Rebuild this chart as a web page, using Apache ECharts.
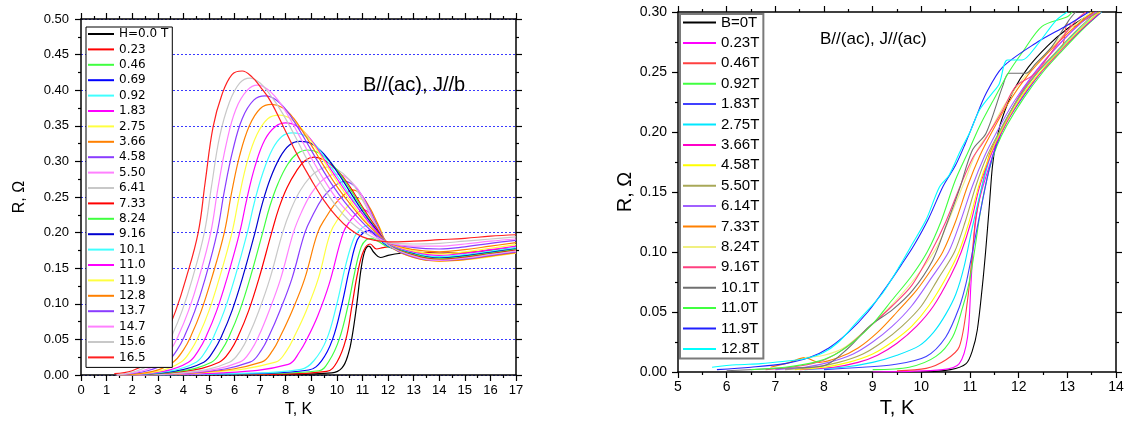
<!DOCTYPE html>
<html>
<head>
<meta charset="utf-8">
<script src="https://cdn.jsdelivr.net/npm/echarts/dist/echarts.min.js"></script>
<style>
html,body{margin:0;padding:0;background:#fff;}
#chart{width:1133px;height:424px;}
</style>
</head>
<body>
<div id="chart"></div>
<script>
// ---------- Left panel: B//(ac), J//b, R(T) at fixed fields ----------
const leftLabels = ['H=0.0 T','0.23','0.46','0.69','0.92','1.83','2.75','3.66','4.58','5.50','6.41',
                    '7.33','8.24','9.16','10.1','11.0','11.9','12.8','13.7','14.7','15.6','16.5'];
const leftColors = ['#000000','#ff0000','#40ff40','#0000ff','#40ffff','#ff00ff','#ffff40','#ff8000','#8a3cff','#ff80ff','#c8c8c8',
                    '#ff0000','#40ff40','#0000d0','#40ffff','#ff00ff','#ffff40','#ff8000','#8a3cff','#ff80ff','#c8c8c8','#ff2020'];

const h000 = [[1.4,0],[8.0,0.001],[9.8,0.003],[10.2,0.01],[10.45,0.03],[10.6,0.055],[10.78,0.1],[10.95,0.15],[11.1,0.175],[11.25,0.181],[11.45,0.172],[11.7,0.165],[12.0,0.168],[12.5,0.171],[13,0.172],[14,0.171],[15,0.172],[16,0.175],[17,0.178]];
const h023 = [[1.4,0],[7.5,0.001],[9.6,0.005],[10.0,0.018],[10.35,0.05],[10.6,0.1],[10.82,0.145],[11.05,0.175],[11.3,0.184],[11.55,0.177],[11.8,0.179],[12.0,0.18],[13,0.173],[14,0.171],[15,0.172],[16,0.175],[17,0.178]];
const h046 = [[1.4,0],[7.0,0.002],[9.3,0.006],[9.7,0.02],[10.09,0.05],[10.45,0.1],[10.7,0.145],[10.95,0.18],[11.15,0.19],[11.35,0.192],[11.6,0.188],[12,0.18],[13,0.169],[14,0.166],[15,0.168],[16,0.172],[17,0.176]];
const h069 = [[1.4,0],[6.5,0.002],[8.9,0.007],[9.4,0.02],[9.83,0.05],[10.2,0.1],[10.5,0.15],[10.8,0.19],[11.05,0.2],[11.25,0.203],[11.5,0.196],[12,0.181],[13,0.168],[14,0.165],[15,0.167],[16,0.171],[17,0.176]];
const h092 = [[1.4,0],[6.0,0.002],[8.6,0.008],[9.1,0.02],[9.6,0.05],[10.0,0.1],[10.35,0.155],[10.7,0.195],[11.0,0.207],[11.2,0.21],[11.5,0.2],[12,0.182],[13,0.167],[14,0.163],[15,0.165],[16,0.169],[17,0.174]];
const h183 = [[1.4,0],[5.5,0.003],[8.1,0.015],[8.55,0.033],[8.85,0.052],[9.25,0.083],[9.7,0.128],[10.25,0.2],[10.55,0.218],[10.8,0.228],[11.05,0.232],[11.3,0.226],[11.6,0.208],[12,0.183],[13,0.166],[14,0.161],[15,0.163],[16,0.167],[17,0.172]];
const h275 = [[1.4,0],[5.0,0.004],[7.6,0.018],[8.05,0.035],[8.35,0.055],[8.8,0.09],[9.27,0.135],[9.75,0.2],[10.1,0.222],[10.45,0.238],[10.85,0.248],[11.1,0.243],[11.4,0.225],[11.7,0.205],[12,0.183],[13,0.165],[14,0.16],[15,0.162],[16,0.166],[17,0.171]];
const h366 = [[1.4,0],[4.8,0.004],[7.05,0.018],[7.5,0.035],[7.8,0.055],[8.25,0.09],[8.74,0.135],[9.25,0.2],[9.58,0.222],[9.92,0.24],[10.25,0.252],[10.6,0.26],[10.9,0.255],[11.3,0.234],[11.6,0.212],[12,0.184],[13,0.165],[14,0.16],[15,0.162],[16,0.167],[17,0.172]];
const h458 = [[1.4,0],[4.6,0.004],[6.6,0.018],[7.05,0.035],[7.35,0.055],[7.77,0.09],[8.24,0.135],[8.75,0.2],[9.08,0.226],[9.43,0.248],[9.78,0.262],[10.05,0.269],[10.3,0.272],[10.7,0.265],[11.1,0.245],[11.5,0.216],[12,0.184],[13,0.166],[14,0.161],[15,0.163],[16,0.168],[17,0.173]];
const h550 = [[1.4,0],[4.4,0.004],[6.2,0.018],[6.65,0.035],[6.95,0.055],[7.35,0.09],[7.8,0.135],[8.3,0.2],[8.62,0.229],[8.98,0.254],[9.35,0.271],[9.65,0.279],[9.95,0.282],[10.3,0.279],[10.8,0.262],[11.2,0.236],[11.6,0.206],[12,0.184],[13,0.167],[14,0.161],[15,0.164],[16,0.169],[17,0.174]];
const h641 = [[1.4,0],[4.2,0.004],[5.8,0.018],[6.25,0.035],[6.55,0.055],[6.95,0.09],[7.38,0.135],[7.88,0.2],[8.2,0.232],[8.55,0.258],[8.95,0.278],[9.3,0.288],[9.6,0.292],[10.0,0.289],[10.5,0.274],[11.0,0.246],[11.5,0.212],[12,0.184],[13,0.168],[14,0.162],[15,0.165],[16,0.17],[17,0.175]];
const h733 = [[1.4,0],[4.0,0.005],[5.4,0.018],[5.85,0.035],[6.15,0.055],[6.55,0.09],[6.95,0.135],[7.45,0.2],[7.73,0.234],[8.05,0.263],[8.43,0.287],[8.75,0.301],[9.1,0.306],[9.5,0.302],[10.0,0.288],[10.5,0.265],[11.0,0.236],[11.5,0.209],[12,0.185],[13,0.169],[14,0.163],[15,0.166],[16,0.171],[17,0.176]];
const h824 = [[1.4,0],[3.8,0.005],[5.1,0.018],[5.5,0.035],[5.8,0.055],[6.2,0.09],[6.6,0.135],[7.1,0.2],[7.38,0.237],[7.7,0.269],[8.08,0.296],[8.45,0.311],[8.85,0.316],[9.3,0.312],[9.8,0.297],[10.3,0.273],[10.8,0.245],[11.3,0.217],[12,0.185],[13,0.17],[14,0.164],[15,0.167],[16,0.172],[17,0.177]];
const h916 = [[1.4,0],[3.6,0.005],[4.8,0.018],[5.2,0.035],[5.5,0.055],[5.9,0.09],[6.3,0.135],[6.8,0.2],[7.08,0.24],[7.4,0.276],[7.78,0.306],[8.15,0.323],[8.55,0.328],[9.0,0.325],[9.5,0.31],[10.0,0.286],[10.5,0.258],[11.0,0.23],[11.5,0.206],[12,0.185],[13,0.171],[14,0.165],[15,0.168],[16,0.173],[17,0.178]];
const h1010 = [[1.4,0],[3.4,0.005],[4.5,0.018],[4.9,0.035],[5.2,0.055],[5.6,0.09],[6.0,0.135],[6.5,0.2],[6.78,0.243],[7.1,0.283],[7.48,0.317],[7.85,0.335],[8.25,0.34],[8.8,0.335],[9.3,0.317],[9.8,0.291],[10.3,0.264],[10.8,0.237],[11.3,0.212],[12,0.185],[13,0.172],[14,0.166],[15,0.169],[16,0.174],[17,0.179]];
const h1100 = [[1.4,0],[3.2,0.005],[4.2,0.018],[4.6,0.035],[4.9,0.055],[5.3,0.09],[5.7,0.135],[6.2,0.2],[6.48,0.247],[6.8,0.293],[7.18,0.33],[7.6,0.349],[8.0,0.354],[8.5,0.348],[9.0,0.33],[9.5,0.303],[10.0,0.276],[10.5,0.25],[11.0,0.226],[11.5,0.204],[12,0.185],[13,0.173],[14,0.168],[15,0.171],[16,0.176],[17,0.181]];
const h1190 = [[1.4,0],[3.0,0.005],[3.9,0.018],[4.3,0.035],[4.6,0.055],[5.0,0.09],[5.4,0.135],[5.9,0.2],[6.18,0.25],[6.5,0.3],[6.88,0.338],[7.3,0.36],[7.75,0.365],[8.2,0.36],[8.6,0.347],[9.0,0.328],[9.4,0.306],[9.8,0.283],[10.3,0.256],[10.8,0.231],[11.3,0.209],[12,0.186],[13,0.174],[14,0.17],[15,0.173],[16,0.178],[17,0.183]];
const h1280 = [[1.4,0],[2.8,0.005],[3.6,0.018],[4.0,0.035],[4.3,0.055],[4.7,0.09],[5.1,0.135],[5.6,0.2],[5.88,0.255],[6.2,0.308],[6.58,0.35],[7.0,0.374],[7.45,0.38],[7.9,0.375],[8.3,0.361],[8.7,0.34],[9.1,0.317],[9.5,0.293],[10.0,0.265],[10.5,0.241],[11.0,0.219],[11.5,0.201],[12,0.186],[13,0.176],[14,0.173],[15,0.176],[16,0.181],[17,0.186]];
const h1370 = [[1.4,0],[2.6,0.006],[3.35,0.018],[3.75,0.035],[4.05,0.055],[4.45,0.09],[4.85,0.135],[5.32,0.2],[5.6,0.258],[5.93,0.315],[6.3,0.36],[6.75,0.386],[7.2,0.392],[7.6,0.387],[8.0,0.373],[8.4,0.352],[8.8,0.328],[9.3,0.297],[9.8,0.268],[10.3,0.243],[10.8,0.222],[11.3,0.204],[12,0.186],[13,0.179],[14,0.177],[15,0.18],[16,0.185],[17,0.189]];
const h1470 = [[1.4,0],[2.4,0.006],[3.1,0.018],[3.5,0.035],[3.8,0.055],[4.2,0.09],[4.6,0.135],[5.07,0.2],[5.35,0.262],[5.68,0.325],[6.05,0.373],[6.5,0.4],[6.9,0.407],[7.3,0.401],[7.7,0.386],[8.1,0.364],[8.5,0.338],[9.0,0.305],[9.5,0.274],[10.0,0.247],[10.5,0.226],[11.0,0.208],[11.5,0.195],[12,0.186],[13,0.181],[14,0.181],[15,0.184],[16,0.188],[17,0.191]];
const h1560 = [[1.4,0],[2.2,0.006],[2.85,0.018],[3.25,0.035],[3.55,0.055],[3.95,0.09],[4.35,0.135],[4.82,0.2],[5.1,0.265],[5.42,0.335],[5.8,0.383],[6.2,0.41],[6.6,0.417],[7.0,0.41],[7.4,0.393],[7.8,0.372],[8.3,0.34],[8.7,0.312],[9.0,0.292],[9.5,0.262],[10.0,0.236],[10.5,0.216],[11.0,0.202],[11.5,0.192],[12,0.186],[13,0.184],[14,0.185],[15,0.188],[16,0.191],[17,0.194]];
const h1650 = [[1.3,0.002],[2.0,0.006],[2.6,0.018],[3.0,0.035],[3.3,0.055],[3.7,0.09],[4.1,0.135],[4.58,0.2],[4.85,0.27],[5.16,0.348],[5.5,0.393],[5.9,0.422],[6.3,0.427],[6.7,0.418],[7.0,0.405],[7.4,0.385],[8.0,0.342],[8.5,0.306],[9.0,0.274],[9.5,0.245],[10.0,0.222],[10.5,0.205],[11.0,0.194],[11.5,0.189],[12,0.187],[13,0.188],[14,0.19],[15,0.192],[16,0.195],[17,0.197]];
const leftCurves = [h000,h023,h046,h069,h092,h183,h275,h366,h458,h550,h641,h733,h824,h916,h1010,h1100,h1190,h1280,h1370,h1470,h1560,h1650];

// ---------- Right panel: B//(ac), J//(ac) ----------
const rightLabels = ['B=0T','0.23T','0.46T','0.92T','1.83T','2.75T','3.66T','4.58T','5.50T','6.14T','7.33T','8.24T','9.16T','10.1T','11.0T','11.9T','12.8T'];
const rightColors = ['#000000','#ff00ff','#ff4040','#40ff40','#4040ff','#00e8ff','#ff00c8','#ffff00','#a8a858','#a060ff','#ff8000','#f0f080','#ff4080','#707070','#40ff40','#2020ff','#00ffff'];

const b000 = [[10.0,0],[10.6,0.002],[10.92,0.007],[11.05,0.018],[11.15,0.035],[11.25,0.07],[11.32,0.1],[11.4,0.14],[11.46,0.171],[11.53,0.19],[11.65,0.21],[11.9,0.235],[12.2,0.254],[12.6,0.272],[13.0,0.286],[13.3,0.294],[13.55,0.3]];
const b023 = [[9.0,0],[10.44,0.002],[10.78,0.007],[10.95,0.029],[11.02,0.074],[11.09,0.116],[11.19,0.143],[11.39,0.171],[11.55,0.19],[11.75,0.21],[12.1,0.236],[12.5,0.258],[12.9,0.276],[13.3,0.292],[13.6,0.3]];
const b046 = [[9.5,0.001],[10.1,0.003],[10.5,0.01],[10.78,0.021],[10.95,0.06],[11.05,0.1],[11.12,0.129],[11.26,0.157],[11.39,0.18],[11.55,0.195],[11.8,0.215],[12.15,0.238],[12.5,0.255],[12.9,0.272],[13.0,0.29],[13.15,0.288],[13.3,0.292],[13.65,0.3]];
const b092 = [[9.0,0.002],[9.75,0.004],[10.3,0.013],[10.64,0.029],[10.85,0.054],[10.98,0.074],[11.09,0.1],[11.22,0.135],[11.39,0.168],[11.55,0.188],[11.75,0.205],[12.1,0.228],[12.5,0.25],[12.9,0.268],[13.3,0.285],[13.7,0.3]];
const b183 = [[8.0,0.002],[8.8,0.004],[9.41,0.006],[10.1,0.013],[10.5,0.029],[10.78,0.054],[10.92,0.074],[11.05,0.1],[11.19,0.129],[11.39,0.168],[11.55,0.19],[11.75,0.208],[12.1,0.23],[12.5,0.252],[12.9,0.27],[13.3,0.286],[13.7,0.3]];
const b275 = [[7.6,0.002],[8.4,0.004],[9.0,0.008],[9.5,0.014],[9.96,0.022],[10.25,0.033],[10.5,0.048],[10.71,0.065],[10.88,0.088],[11.05,0.121],[11.26,0.157],[11.46,0.185],[11.67,0.205],[12.0,0.228],[12.4,0.25],[12.8,0.267],[13.2,0.284],[13.6,0.298],[13.7,0.3]];
const b366 = [[7.5,0.002],[8.2,0.004],[8.7,0.008],[9.1,0.014],[9.5,0.024],[9.9,0.038],[10.25,0.055],[10.6,0.08],[10.82,0.1],[11.02,0.125],[11.2,0.155],[11.42,0.18],[11.65,0.2],[12.0,0.225],[12.4,0.247],[12.8,0.265],[13.2,0.282],[13.6,0.297],[13.68,0.3]];
const b458 = [[7.4,0.002],[8.0,0.004],[8.5,0.008],[9.0,0.015],[9.4,0.025],[9.8,0.038],[10.15,0.055],[10.5,0.078],[10.77,0.1],[10.98,0.125],[11.18,0.155],[11.4,0.18],[11.63,0.2],[12.0,0.226],[12.4,0.248],[12.8,0.266],[13.2,0.283],[13.6,0.298],[13.68,0.3]];
const b550 = [[7.2,0.002],[7.8,0.004],[8.3,0.008],[8.8,0.015],[9.2,0.025],[9.6,0.038],[10.0,0.055],[10.35,0.078],[10.68,0.1],[10.9,0.125],[11.12,0.155],[11.35,0.18],[11.6,0.2],[11.95,0.225],[12.35,0.248],[12.75,0.266],[13.15,0.283],[13.55,0.298],[13.65,0.3]];
const b614 = [[7.0,0.002],[7.6,0.004],[8.1,0.008],[8.6,0.015],[9.0,0.025],[9.4,0.038],[9.8,0.055],[10.2,0.078],[10.56,0.1],[10.8,0.125],[11.05,0.155],[11.3,0.18],[11.55,0.2],[11.9,0.225],[12.3,0.248],[12.7,0.267],[13.1,0.284],[13.5,0.298],[13.6,0.3]];
const b733 = [[6.9,0.004],[7.3,0.008],[7.6,0.012],[7.9,0.008],[8.3,0.012],[8.7,0.02],[9.1,0.033],[9.5,0.05],[9.9,0.068],[10.2,0.085],[10.44,0.1],[10.7,0.125],[10.95,0.155],[11.2,0.18],[11.45,0.2],[11.8,0.225],[12.2,0.248],[12.6,0.266],[13.0,0.282],[13.4,0.296],[13.55,0.3]];
const b824 = [[7.6,0.012],[8.0,0.014],[8.4,0.02],[8.8,0.033],[9.2,0.048],[9.6,0.065],[10.0,0.085],[10.33,0.105],[10.6,0.13],[10.9,0.16],[11.15,0.185],[11.4,0.2],[11.7,0.222],[12.1,0.245],[12.5,0.263],[12.9,0.28],[13.3,0.294],[13.5,0.3]];
const b916 = [[6.8,0.002],[7.5,0.005],[8.0,0.01],[8.5,0.022],[9.0,0.04],[9.4,0.055],[9.8,0.072],[10.2,0.1],[10.5,0.125],[10.8,0.155],[11.05,0.178],[11.25,0.19],[11.39,0.199],[11.67,0.218],[11.94,0.238],[12.35,0.249],[12.77,0.272],[13.18,0.293],[13.38,0.3]];
const b1010 = [[6.0,0.001],[7.0,0.003],[7.98,0.005],[8.5,0.02],[8.93,0.038],[9.41,0.052],[9.82,0.068],[10.23,0.093],[10.5,0.121],[10.78,0.152],[11.05,0.185],[11.33,0.199],[11.67,0.238],[11.8,0.249],[12.15,0.249],[12.35,0.257],[12.68,0.271],[13.03,0.293],[13.17,0.3]];
const b1100 = [[6.5,0.002],[7.2,0.004],[7.8,0.008],[8.2,0.014],[8.6,0.025],[9.0,0.04],[9.4,0.06],[9.8,0.08],[10.12,0.1],[10.4,0.125],[10.7,0.16],[10.98,0.185],[11.2,0.205],[11.5,0.228],[11.8,0.25],[12.07,0.266],[12.48,0.288],[13.0,0.296],[13.1,0.3]];
const b1190 = [[5.8,0.002],[6.5,0.004],[7.2,0.007],[7.7,0.012],[8.1,0.02],[8.5,0.033],[8.9,0.05],[9.3,0.072],[9.6,0.09],[9.84,0.105],[10.15,0.128],[10.45,0.155],[10.7,0.172],[10.9,0.19],[11.1,0.21],[11.33,0.232],[11.67,0.254],[12.35,0.274],[13.0,0.289],[13.44,0.3]];
const b1280 = [[5.7,0.004],[6.2,0.006],[6.7,0.007],[7.2,0.009],[7.6,0.011],[7.98,0.016],[8.3,0.025],[8.66,0.041],[9.0,0.056],[9.21,0.066],[9.55,0.088],[9.82,0.107],[10.1,0.127],[10.37,0.154],[10.57,0.164],[10.81,0.185],[11.0,0.2],[11.19,0.218],[11.45,0.232],[11.6,0.24],[11.77,0.26],[12.07,0.26],[12.35,0.271],[12.77,0.293],[13.0,0.3]];
const rightCurves = [b000,b023,b046,b092,b183,b275,b366,b458,b550,b614,b733,b824,b916,b1010,b1100,b1190,b1280];

// ---------- shared axis styling ----------
const TXT = '"Liberation Sans", Arial, sans-serif';
function axisStyle(extra) {
  return Object.assign({
    type: 'value',
    axisLine: { show: true, onZero: false, lineStyle: { color: '#000', width: 1.5 } },
    axisTick: { show: true, inside: false, length: 6, lineStyle: { color: '#000', width: 1.2 } },
    minorTick: { show: true, splitNumber: 2, length: 3, lineStyle: { color: '#000', width: 1.2 } },
    splitLine: { show: false },
    axisLabel: { show: false }
  }, extra);
}

const series = [];
leftCurves.forEach((d, i) => series.push({
  type: 'line', name: leftLabels[i], xAxisIndex: 0, yAxisIndex: 0, data: d,
  showSymbol: false, smooth: 0.4, animation: false,
  lineStyle: { width: 1.2, color: leftColors[i] }, itemStyle: { color: leftColors[i] }
}));
rightCurves.forEach((d, i) => series.push({
  type: 'line', name: rightLabels[i], xAxisIndex: 2, yAxisIndex: 2, data: d,
  showSymbol: false, smooth: 0.3, animation: false,
  lineStyle: { width: 1.1, color: rightColors[i] }, itemStyle: { color: rightColors[i] }
}));

const chart = echarts.init(document.getElementById('chart'), null, { renderer: 'canvas' });
chart.setOption({
  backgroundColor: '#fff',
  animation: false,
  grid: [
    { left: 81, top: 19, width: 435, height: 356 },
    { left: 678, top: 12, width: 438, height: 360 }
  ],
  xAxis: [
    axisStyle({ gridIndex: 0, position: 'bottom', min: 0, max: 17, interval: 1,
      axisLabel: { show: true, margin: 9, fontSize: 13, fontFamily: TXT, color: '#000' },
      name: 'T, K', nameLocation: 'middle', nameGap: 27,
      nameTextStyle: { fontSize: 16, fontFamily: TXT, color: '#000' } }),
    axisStyle({ gridIndex: 0, position: 'top', min: 0, max: 17, interval: 1 }),
    axisStyle({ gridIndex: 1, position: 'bottom', min: 5, max: 14, interval: 1,
      axisLabel: { show: true, margin: 8, fontSize: 14, fontFamily: TXT, color: '#000' },
      name: 'T, K', nameLocation: 'middle', nameGap: 26,
      nameTextStyle: { fontSize: 20, fontFamily: TXT, color: '#000' } }),
    axisStyle({ gridIndex: 1, position: 'top', min: 5, max: 14, interval: 1 })
  ],
  yAxis: [
    axisStyle({ gridIndex: 0, position: 'left', min: 0, max: 0.5, interval: 0.05,
      axisLabel: { show: true, margin: 12, fontSize: 13, fontFamily: TXT, color: '#000',
        formatter: v => v.toFixed(2) },
      splitLine: { show: true, lineStyle: { color: '#3a3aff', type: [2, 2], width: 1 } },
      name: 'R, \u03a9', nameLocation: 'middle', nameGap: 53,
      nameTextStyle: { fontSize: 16, fontFamily: TXT, color: '#000' } }),
    axisStyle({ gridIndex: 0, position: 'right', min: 0, max: 0.5, interval: 0.05 }),
    axisStyle({ gridIndex: 1, position: 'left', min: 0, max: 0.3, interval: 0.05,
      axisLabel: { show: true, margin: 11, fontSize: 14, fontFamily: TXT, color: '#000',
        formatter: v => v.toFixed(2) },
      name: 'R, \u03a9', nameLocation: 'middle', nameGap: 38,
      nameTextStyle: { fontSize: 20, fontFamily: TXT, color: '#000' } }),
    axisStyle({ gridIndex: 1, position: 'right', min: 0, max: 0.3, interval: 0.05 })
  ],
  legend: [
    { data: leftLabels, orient: 'vertical', left: 86, top: 27, padding: [0, 4, 3, 2],
      itemWidth: 26, itemHeight: 2, itemGap: 1.4, icon: 'rect', selectedMode: false,
      backgroundColor: '#fff', borderColor: '#000', borderWidth: 1,
      textStyle: { fontSize: 12, lineHeight: 14, fontFamily: '"DejaVu Sans", Verdana, sans-serif', color: '#000' } },
    { data: rightLabels, orient: 'vertical', left: 680, top: 14, padding: [0, 4, 1, 3],
      itemWidth: 33, itemHeight: 2, itemGap: 3.4, icon: 'rect', selectedMode: false,
      backgroundColor: '#fff', borderColor: '#7a7a7a', borderWidth: 2,
      textStyle: { fontSize: 15, lineHeight: 17, fontFamily: TXT, color: '#000' } }
  ],
  graphic: [
    { type: 'text', left: 363, top: 75, z: 10,
      style: { text: 'B//(ac), J//b', font: '20px "Liberation Sans", Arial, sans-serif', fill: '#000' } },
    { type: 'text', left: 820, top: 31, z: 10,
      style: { text: 'B//(ac), J//(ac)', font: '17px "Liberation Sans", Arial, sans-serif', fill: '#000' } }
  ],
  series: series
});
</script>
</body>
</html>
